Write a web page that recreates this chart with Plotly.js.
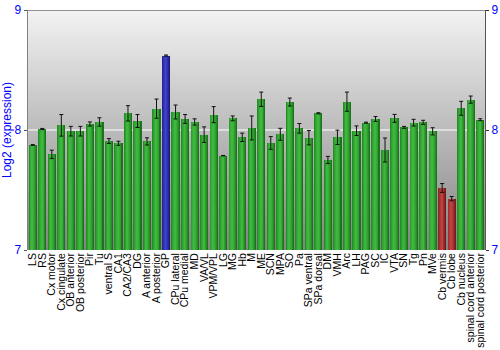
<!DOCTYPE html>
<html>
<head>
<meta charset="utf-8">
<script src="https://cdn.plot.ly/plotly-3.0.1.min.js"></script>
<style>html,body{margin:0;padding:0;background:#fff}#chart{width:500px;height:350px}</style>
</head>
<body>
<div id="chart"></div>
<script>
const categories = ['LS','RS','Cx motor','Cx cingulate','OB anterior','OB posterior','Pir','Tu','ventral S','CA1','CA2/CA3','DG','A anterior','A posterior','GP','CPu lateral','CPu medial','MD','VA/VL','VPM/VPL','LG','MG','Hb','M','ME','SCN','MPA','SO','Pa','SPa ventral','SPa dorsal','DM','VMH','Arc','LH','PAG','SC','IC','VTA','SN','Tg','Pn','MVe','Cb vermis','Cb lobe','Cb nucleus','spinal cord anterior','spinal cord posterior'];
const values = [7.875,8.008,7.797,8.039,7.99,7.99,8.05,8.067,7.908,7.889,8.139,8.075,7.905,8.178,8.62,8.15,8.092,8.067,7.961,8.128,7.786,8.097,7.939,8.017,8.256,7.892,7.964,8.233,8.014,7.936,8.139,7.75,7.939,8.236,7.994,8.061,8.092,7.833,8.097,8.022,8.061,8.064,7.989,7.517,7.428,8.181,8.253,8.086];
const errors = [0.003,0.005,0.035,0.09,0.04,0.04,0.017,0.035,0.02,0.017,0.064,0.054,0.03,0.08,0.005,0.058,0.037,0.026,0.065,0.067,0.002,0.02,0.035,0.1,0.06,0.053,0.05,0.033,0.04,0.06,0.005,0.03,0.06,0.08,0.04,0.004,0.02,0.1,0.033,0.008,0.028,0.017,0.03,0.037,0.018,0.058,0.03,0.008];
const blueCats = ['GP'];
const redCats = ['Cb vermis','Cb lobe'];
const yTicks = [7, 8, 9];

// shading layers for a cylinder look
const layers = [
  {w:0.86, g:'#1d721d', b:'#1c1c78', r:'#701a1a'},
  {w:0.74, g:'#268c26', b:'#26269a', r:'#8e2424'},
  {w:0.56, g:'#2f9f2f', b:'#2f2fb0', r:'#a32e2e'},
  {w:0.38, g:'#37ad37', b:'#3838bf', r:'#b13838'},
  {w:0.2,  g:'#3eb73e', b:'#4343c9', r:'#bb4242'}
];
const shift = -0.06;
const traces = layers.map((L, i) => ({
  type:'bar', x:categories, y:values.map(v => v - 7), base:7,
  width:L.w, offset: i === 0 ? -L.w/2 : -L.w/2 + shift,
  marker:{color:categories.map(c => blueCats.includes(c) ? L.b : (redCats.includes(c) ? L.r : L.g)), line:{width:0}},
  hoverinfo:'skip', showlegend:false
}));
traces.push({
  type:'scatter', mode:'markers', x:categories, y:values,
  marker:{size:1, color:'rgba(0,0,0,0)'},
  error_y:{type:'data', array:errors, visible:true, color:'#111', thickness:1, width:2},
  showlegend:false, hoverinfo:'skip'
});
traces.push({type:'scatter', mode:'markers', x:[categories[0]], y:[8], yaxis:'y2', marker:{size:1,color:'rgba(0,0,0,0)'}, showlegend:false, hoverinfo:'skip'});

const shapes = [];
const N = 80;
for (let i = 0; i < N; i++) {
  const t = i / (N - 1);
  const g = Math.round(242 - t * 110);
  shapes.push({type:'rect', xref:'paper', yref:'y', x0:0, x1:1, y0:9 - 2*i/N, y1:9 - 2*(i+1)/N, fillcolor:`rgb(${g},${g},${g})`, line:{width:0}, layer:'below'});
}
shapes.push({type:'line', xref:'paper', yref:'y', x0:0, x1:1, y0:8, y1:8, line:{color:'#ffffff', width:1.2}, layer:'below'});
shapes.push({type:'line', xref:'paper', yref:'y', x0:0, x1:1, y0:9, y1:9, line:{color:'#707070', width:1.5}, layer:'above'});

const font = {family:'"Liberation Sans", Arial, sans-serif'};
const layout = {
  width:500, height:350,
  margin:{l:28, r:15, t:10, b:100},
  paper_bgcolor:'#ffffff', plot_bgcolor:'#ffffff',
  barmode:'overlay', bargap:0,
  font:font,
  shapes:shapes,
  xaxis:{type:'category', tickmode:'array', tickvals:categories, ticktext:categories, tickangle:-90, tickfont:{size:10.5, color:'#000', family:font.family}, ticks:'', showgrid:false, zeroline:false, showline:false, range:[-0.5, categories.length - 0.5]},
  yaxis:{range:[7,9], tickvals:yTicks, ticktext:yTicks.map(String), tickfont:{size:12, color:'#0000ff'}, ticks:'outside', ticklen:3, tickcolor:'#555', showgrid:false, zeroline:false, showline:true, linecolor:'#808080', linewidth:1.5,
    title:{text:'Log2 (expression)', font:{size:12, color:'#0000ff'}, standoff:6}},
  yaxis2:{overlaying:'y', side:'right', range:[7,9], tickvals:yTicks, tickfont:{size:12, color:'#0000ff'}, ticks:'outside', ticklen:3, tickcolor:'#333', showgrid:false, zeroline:false, showline:true, linecolor:'#555', linewidth:1}
};
Plotly.newPlot('chart', traces, layout, {displayModeBar:false, staticPlot:true});
</script>
</body>
</html>
